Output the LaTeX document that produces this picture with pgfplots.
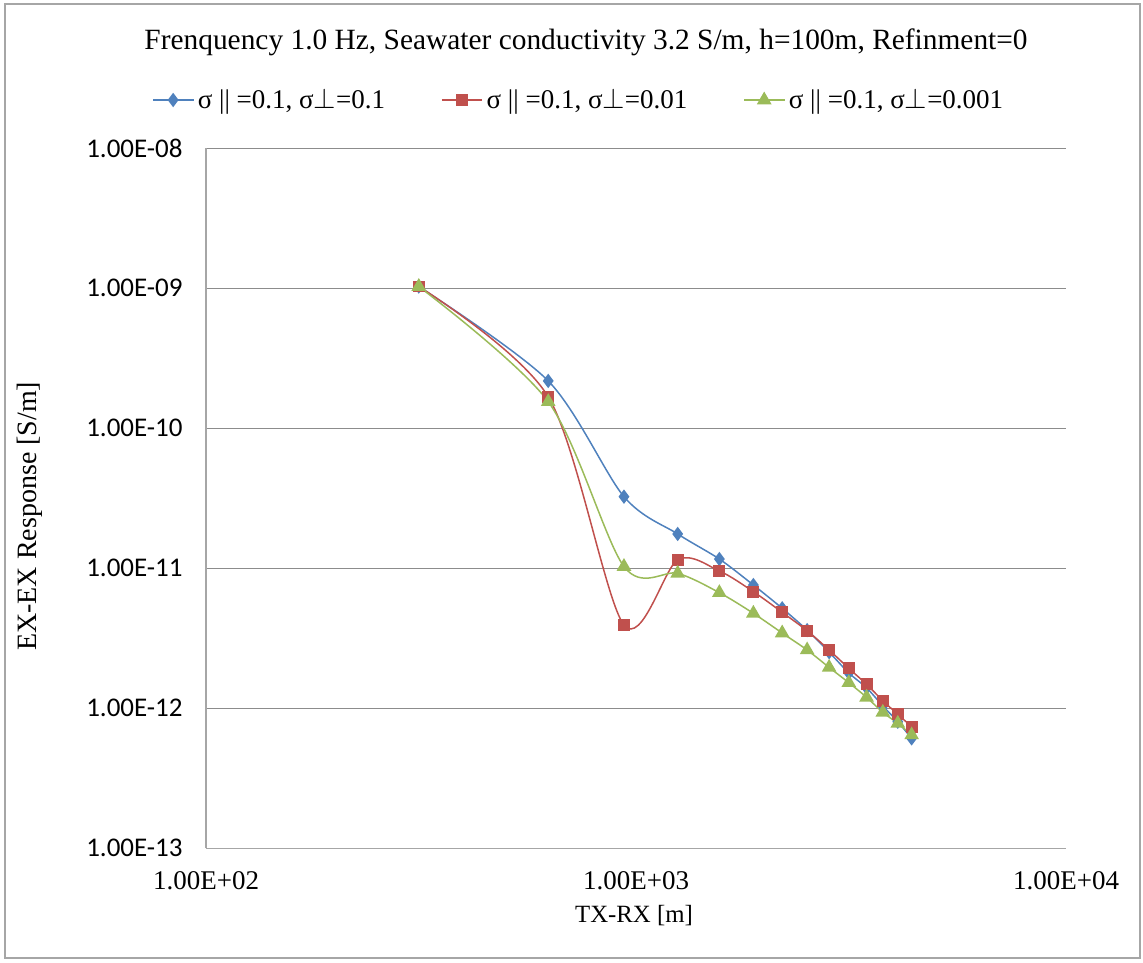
\documentclass[border=0pt]{standalone}
\usepackage{pgfplots}
\pgfplotsset{compat=1.18}
\usepackage{pgfplotstable}
\usepackage{fontspec}
\setmainfont{Liberation Serif}
\newfontfamily\carlito{Carlito}
\definecolor{sblue}{HTML}{4F81BD}
\definecolor{sred}{HTML}{C0504D}
\definecolor{sgreen}{HTML}{9BBB59}
\definecolor{gridgray}{HTML}{8C8C8C}
\definecolor{axisgray}{HTML}{A6A6A6}

\pgfplotstableread{
x      b        r        g
312.5  1.03e-9  1.03e-9  1.03e-9
625    2.18e-10 1.68e-10 1.55e-10
937.5  3.25e-11 3.94e-12 1.03e-11
1250   1.76e-11 1.15e-11 9.21e-12
1562.5 1.165e-11 9.57e-12 6.70e-12
1875   7.60e-12 6.81e-12 4.77e-12
2187.5 5.18e-12 4.85e-12 3.45e-12
2500   3.62e-12 3.58e-12 2.61e-12
2812.5 2.52e-12 2.61e-12 1.96e-12
3125   1.79e-12 1.93e-12 1.524e-12
3437.5 1.40e-12 1.484e-12 1.199e-12
3750   1.04e-12 1.133e-12 9.36e-13
4062.5 8.02e-13 9.06e-13 7.81e-13
4375   6.10e-13 7.39e-13 6.45e-13
}\datatable

\begin{document}
\begin{tikzpicture}
\path[use as bounding box] (-103pt,-56.85pt) rectangle (468.5pt,424.15pt);
\draw[axisgray, line width=1pt] (-100.5pt,-54.85pt) rectangle (467pt,422.15pt);
\begin{axis}[
  at={(0pt,0pt)}, anchor=south west,
  scale only axis, width=430pt, height=350pt,
  xmode=log, ymode=log,
  xmin=100, xmax=10000, ymin=1e-13, ymax=1e-8,
  axis x line*=bottom, axis y line*=left,
  axis line style={axisgray, line width=0.8pt, -},
  ymajorgrids, xmajorgrids=false,
  grid style={gridgray, line width=0.7pt},
  xminorticks=false, yminorticks=false,
  major tick length=0pt,
  xtick={100,1000,10000},
  xticklabels={1.00E+02,1.00E+03,1.00E+04},
  ytick={1e-13,1e-12,1e-11,1e-10,1e-9,1e-8},
  yticklabels={1.00E-13,1.00E-12,1.00E-11,1.00E-10,1.00E-09,1.00E-08},
  xticklabel style={font=\fontsize{13.5}{15}\selectfont, anchor=north, inner sep=0pt, yshift=-11.5pt},
  yticklabel style={font=\carlito\fontsize{13.5}{15}\selectfont, anchor=east, inner sep=0pt, xshift=-11.5pt},
  legend style={draw=none, fill=none, font=\fontsize{13.5}{15}\selectfont,
    legend columns=3, at={(-0.0628,1.069)}, anchor=west, inner sep=0pt,
    /tikz/every even column/.append style={column sep=26pt}},
  legend cell align=left,
  legend image code/.code={\draw[mark repeat=2,mark phase=2] plot coordinates {(0pt,0pt)(10pt,0pt)(20pt,0pt)};},
  clip=false,
]
\addplot[sblue, line width=0.75pt, smooth, tension=0.5, mark=diamond*, mark size=3pt, mark options={solid, fill=sblue}] table[x=x,y=b]{\datatable};
\addlegendentry{σ || =0.1, σ$\perp$=0.1}
\addplot[sred, line width=0.75pt, smooth, tension=0.5, mark=square*, mark size=2.6pt, mark options={solid, fill=sred}] table[x=x,y=r]{\datatable};
\addlegendentry{σ || =0.1, σ$\perp$=0.01}
\addplot[sgreen, line width=0.75pt, smooth, tension=0.5, mark=triangle*, mark size=3.5pt, mark options={solid, fill=sgreen}] table[x=x,y=g]{\datatable};
\addlegendentry{σ || =0.1, σ$\perp$=0.001}
\end{axis}
\node[font=\fontsize{14.7}{17}\selectfont] at (190pt,403.2pt) {Frenquency 1.0 Hz, Seawater conductivity 3.2 S/m, h=100m, Refinment=0};
\node[font=\fontsize{12.4}{14}\selectfont] at (214pt,-33.4pt) {TX-RX [m]};
\node[font=\fontsize{14}{16}\selectfont, rotate=90] at (-88pt,166pt) {EX-EX Response [S/m]};
\end{tikzpicture}
\end{document}
